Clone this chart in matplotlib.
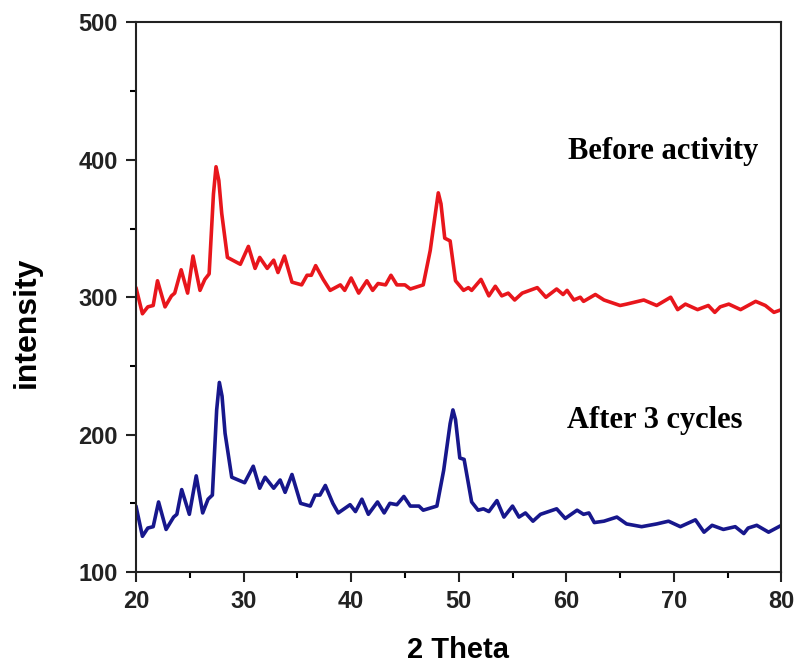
import matplotlib
matplotlib.use("Agg")
import matplotlib.pyplot as plt
from matplotlib.ticker import MultipleLocator

# XRD pattern before activity
before_x = [20.0, 20.6, 21.1, 21.6, 22.0, 22.7, 23.3, 23.6, 24.2, 24.8, 25.3, 25.95,
            26.4, 26.8, 27.2, 27.44, 27.7, 27.97, 28.5, 29.7, 30.45, 31.07, 31.5, 32.2,
            32.8, 33.2, 33.8, 34.5, 35.4, 35.9, 36.3, 36.7, 37.4, 38.05, 39.0, 39.4,
            40.0, 40.7, 41.46, 42.0, 42.5, 43.2, 43.7, 44.25, 45.0, 45.5, 46.7, 47.35,
            47.9, 48.1, 48.35, 48.7, 49.2, 49.7, 50.45, 50.9, 51.2, 52.07, 52.8, 53.4,
            54.0, 54.6, 55.2, 55.9, 57.3, 58.1, 59.1, 59.7, 60.07, 60.7, 61.3, 61.6,
            62.7, 63.5, 65.0, 65.6, 67.2, 68.4, 69.7, 70.35, 71.07, 72.2, 73.2, 73.8,
            74.3, 75.1, 76.2, 77.6, 78.5, 79.3, 80.0]
before_y = [307, 288, 293, 294, 312, 293, 301, 303, 320, 303, 330, 305,
            313, 317, 375, 395, 385, 361, 329, 324, 337, 321, 329, 321,
            327, 318, 330, 311, 309, 316, 316, 323, 313, 305, 309, 305,
            314, 303, 312, 305, 310, 309, 316, 309, 309, 306, 309, 334,
            365, 376, 368, 343, 341, 312, 305, 307, 305, 313, 301, 308,
            301, 303, 298, 303, 307, 300, 306, 302, 305, 298, 300, 297,
            302, 298, 294, 295, 298, 294, 300, 291, 295, 291, 294, 289,
            293, 295, 291, 297, 294, 289, 291]

# XRD pattern after 3 cycles
after_x = [20.0, 20.6, 21.1, 21.6, 22.1, 22.8, 23.5, 23.8, 24.25, 24.96, 25.6, 26.2,
           26.7, 27.1, 27.5, 27.75, 28.0, 28.28, 28.9, 30.1, 30.9, 31.5, 32.0, 32.8,
           33.4, 33.86, 34.5, 35.3, 36.2, 36.65, 37.1, 37.6, 38.3, 38.8, 39.9, 40.4,
           41.0, 41.6, 42.45, 43.07, 43.6, 44.25, 44.9, 45.5, 46.3, 46.7, 47.97, 48.6,
           49.2, 49.46, 49.7, 50.1, 50.5, 51.2, 51.8, 52.3, 52.8, 53.55, 54.2, 55.0,
           55.6, 56.2, 56.9, 57.6, 59.1, 59.9, 61.0, 61.6, 62.1, 62.6, 63.5, 64.7,
           65.6, 67.0, 68.4, 69.5, 70.6, 72.0, 72.8, 73.55, 74.6, 75.7, 76.5, 76.9,
           77.7, 78.8, 80.0]
after_y = [148, 126, 132, 133, 151, 131, 140, 142, 160, 142, 170, 143,
           153, 156, 218, 238, 228, 201, 169, 165, 177, 161, 169, 161,
           167, 158, 171, 150, 148, 156, 156, 163, 150, 143, 149, 144,
           153, 142, 151, 143, 150, 149, 155, 148, 148, 145, 148, 174,
           208, 218, 211, 183, 182, 151, 145, 146, 144, 152, 140, 148,
           140, 143, 137, 142, 146, 139, 145, 142, 143, 136, 137, 140,
           135, 133, 135, 137, 133, 138, 129, 134, 131, 133, 128, 132,
           134, 129, 134]

fig = plt.figure(figsize=(7.98, 6.67), dpi=100)
ax = fig.add_axes([0.1704, 0.1424, 0.8089, 0.8239])

ax.plot(before_x, before_y, color="#e8161c", lw=2.6,
        solid_joinstyle="round", solid_capstyle="round")
ax.plot(after_x, after_y, color="#17178c", lw=2.6,
        solid_joinstyle="round", solid_capstyle="round")

ax.set_xlim(20, 80)
ax.set_ylim(100, 500)
ax.xaxis.set_major_locator(MultipleLocator(10))
ax.xaxis.set_minor_locator(MultipleLocator(5))
ax.yaxis.set_major_locator(MultipleLocator(100))
ax.yaxis.set_minor_locator(MultipleLocator(50))

for s in ax.spines.values():
    s.set_linewidth(1.5)
    s.set_color("#222222")
ax.tick_params(which="major", direction="out", length=7, width=1.5, pad=6,
               labelsize=17, colors="#222222")
ax.tick_params(which="minor", direction="out", length=4, width=1.5)
for lab in ax.get_xticklabels() + ax.get_yticklabels():
    lab.set_fontweight("bold")
    lab.set_fontfamily("Liberation Sans")

# axis titles placed where the reference has them
fig.text(458 / 798, 1 - 650 / 667, "2 Theta", fontsize=21, fontweight="bold",
         family="Liberation Sans", ha="center", va="center")
fig.text(27 / 798, 1 - 322 / 667, "intensity", fontsize=23, fontweight="bold",
         family="Liberation Sans", ha="center", va="center", rotation=90)

ax.text(69.0, 406, "Before activity", fontsize=22, fontweight="bold",
        family="Liberation Serif", ha="center", va="center")
ax.text(68.2, 210, "After 3 cycles", fontsize=22, fontweight="bold",
        family="Liberation Serif", ha="center", va="center")

fig.savefig("out.png", dpi=100)
